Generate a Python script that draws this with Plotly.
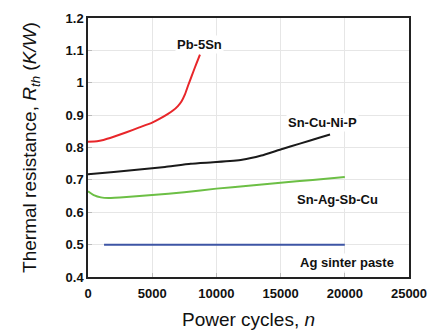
import plotly.graph_objects as go

# Data
pb_x = [0, 700, 1200, 2000, 3000, 4000, 5000, 5600, 6200, 6640, 7000, 7290, 7550, 7810, 8000, 8200, 8450, 8720]
pb_y = [0.818, 0.819, 0.823, 0.833, 0.847, 0.862, 0.877, 0.889, 0.903, 0.915, 0.928, 0.943, 0.964, 0.993, 1.013, 1.034, 1.060, 1.087]

sncu_x = [0, 2000, 4000, 6000, 8000, 10000, 12000, 13500, 15000, 16500, 18000, 18850]
sncu_y = [0.717, 0.724, 0.732, 0.740, 0.750, 0.755, 0.762, 0.775, 0.794, 0.812, 0.830, 0.840]

snag_x = [0, 500, 1000, 1600, 3000, 5000, 7500, 10000, 12500, 15000, 17500, 20000]
snag_y = [0.665, 0.652, 0.646, 0.644, 0.647, 0.653, 0.662, 0.673, 0.682, 0.691, 0.700, 0.709]

ag_x = [1250, 20000]
ag_y = [0.5, 0.5]

y_ticks = [0.4, 0.5, 0.6, 0.7, 0.8, 0.9, 1.0, 1.1, 1.2]
y_text = ["0.4", "0.5", "0.6", "0.7", "0.8", "0.9", "1", "1.1", "1.2"]
x_ticks = [0, 5000, 10000, 15000, 20000, 25000]
x_text = ["0", "5000", "10000", "15000", "20000", "25000"]

labels = ["Pb-5Sn", "Sn-Cu-Ni-P", "Sn-Ag-Sb-Cu", "Ag sinter paste"]
label_x = [8720, 18300, 19470, 20170]
label_y = [1.117, 0.876, 0.638, 0.446]

series = [
    (pb_x, pb_y, "#e8262a"),
    (sncu_x, sncu_y, "#1a1a1a"),
    (snag_x, snag_y, "#6cbf45"),
    (ag_x, ag_y, "#3d55a5"),
]

FONT = "Liberation Sans, Arial"

fig = go.Figure()
for (xs, ys, c), name in zip(series, labels):
    fig.add_trace(go.Scatter(x=xs, y=ys, mode="lines", name=name,
                             line=dict(color=c, width=2, shape="spline", smoothing=0.4)))

for t, xv, yv in zip(labels, label_x, label_y):
    fig.add_annotation(x=xv, y=yv, text="<b>" + t + "</b>", showarrow=False,
                       bgcolor="white", font=dict(family=FONT, size=13, color="#111"))

fig.update_layout(
    width=448, height=334,
    margin=dict(l=88, r=39, t=18, b=57),
    paper_bgcolor="white", plot_bgcolor="white",
    showlegend=False,
    font=dict(family=FONT, color="#111"),
)
fig.update_xaxes(
    range=[0, 25000], tickvals=x_ticks, ticktext=x_text,
    tickfont=dict(size=13, family=FONT, weight="bold"),
    showgrid=True, gridcolor="#e6e6e6", gridwidth=1,
    showline=True, linecolor="#222", linewidth=1.5, mirror=True,
    ticks="inside", ticklen=4, tickcolor="#bbb",
    ticklabelstandoff=4, automargin=False,
    zeroline=False,
    title=dict(text="Power cycles, <i>n</i>", font=dict(size=19), standoff=12),
)
fig.update_yaxes(
    range=[0.4, 1.2], tickvals=y_ticks, ticktext=y_text,
    tickfont=dict(size=13, family=FONT, weight="bold"),
    showgrid=True, gridcolor="#e6e6e6", gridwidth=1,
    showline=True, linecolor="#222", linewidth=1.5, mirror=True,
    ticks="inside", ticklen=4, tickcolor="#bbb",
    automargin=False,
    zeroline=False,
    title=dict(text="Thermal resistance, <i>R</i><sub><i>th</i></sub> (<i>K/W</i>)",
               font=dict(size=19), standoff=24),
)

fig.write_html("out.html")
